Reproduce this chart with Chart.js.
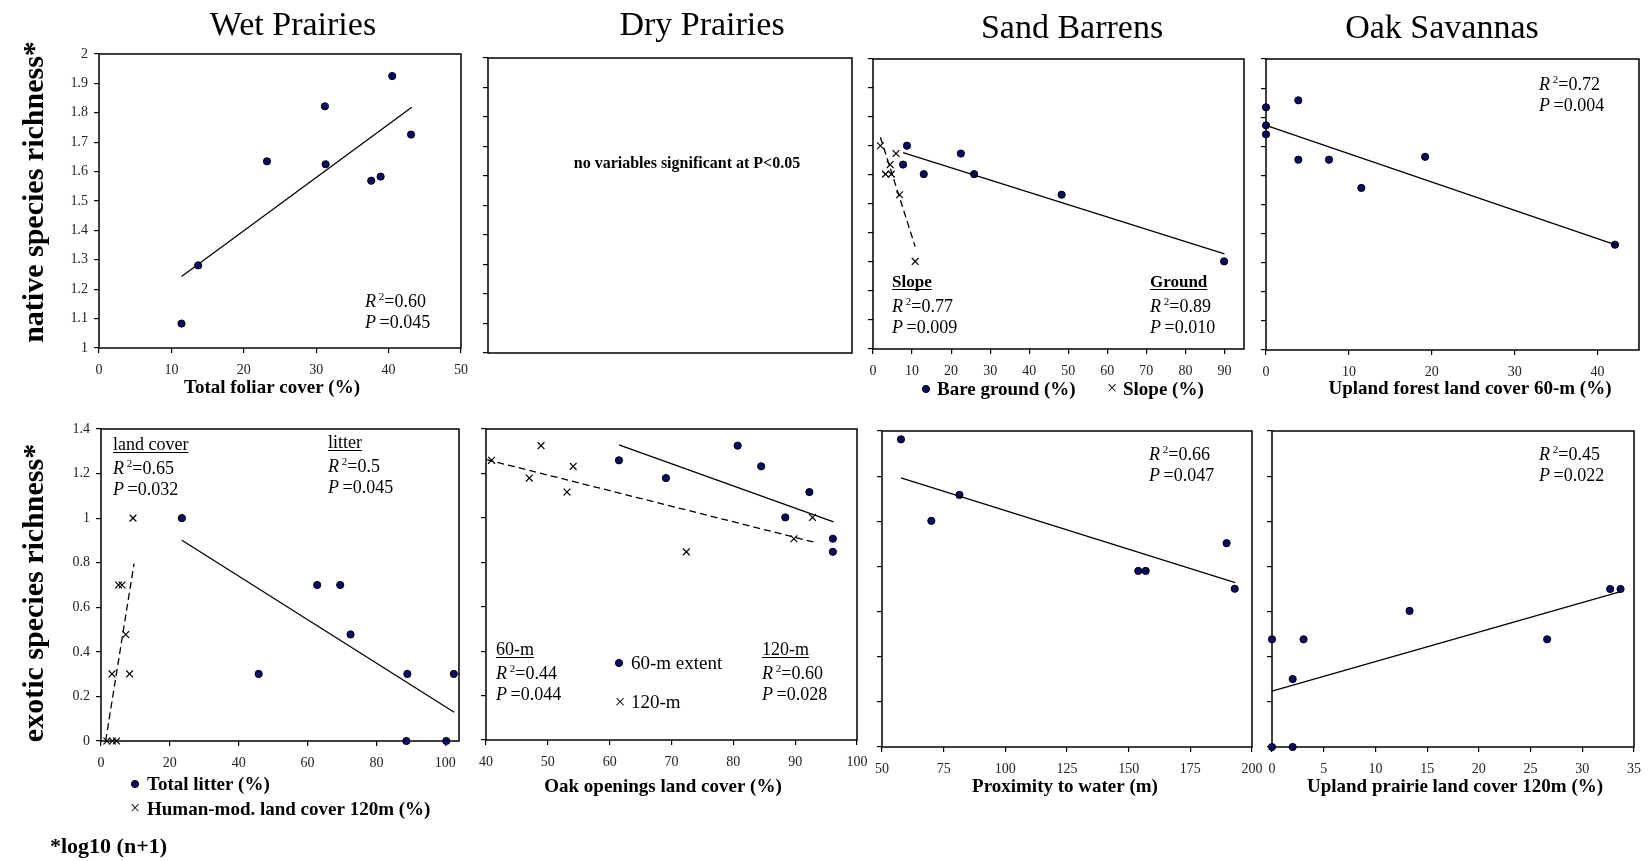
<!DOCTYPE html>
<html>
<head>
<meta charset="utf-8">
<script src="https://cdn.jsdelivr.net/npm/chart.js@4.4.1/dist/chart.umd.min.js"></script>
<style>
  body { margin: 0; background: #fff; width: 1650px; height: 861px; position: relative; overflow: hidden; }
  canvas { position: absolute; }
</style>
</head>
<body>
<canvas id="wetTop"></canvas>
<canvas id="dryTop"></canvas>
<canvas id="sandTop"></canvas>
<canvas id="oakTop"></canvas>
<canvas id="wetBottom"></canvas>
<canvas id="dryBottom"></canvas>
<canvas id="sandBottom"></canvas>
<canvas id="oakBottom"></canvas>
<script>
// ---- data ----
// Wet prairies, native richness vs total foliar cover
const wetFoliar = [11.4, 13.7, 23.2, 31.2, 31.3, 37.6, 38.9, 40.5, 43.1];
const wetNative = [1.083, 1.281, 1.635, 1.822, 1.625, 1.569, 1.583, 1.925, 1.726];
const wetNativeFitX = [11.4, 43.2];
const wetNativeFitY = [1.243, 1.819];

// Sand barrens, native richness vs bare ground / slope
const sandBare = [8.7, 7.7, 13.0, 22.5, 25.9, 48.3, 89.9];
const sandBareNative = [1.701, 1.636, 1.603, 1.674, 1.603, 1.532, 1.302];
const sandSlope = [1.9, 5.9, 4.4, 3.2, 4.7, 6.8, 10.8];
const sandSlopeNative = [1.701, 1.674, 1.636, 1.603, 1.603, 1.532, 1.302];
const sandBareFitX = [7.7, 90];
const sandBareFitY = [1.677, 1.328];
const sandSlopeFitX = [1.9, 10.8];
const sandSlopeFitY = [1.730, 1.353];

// Oak savannas, native richness vs upland forest 60-m
const oakForest = [0, 0, 0, 3.9, 3.9, 7.6, 11.5, 19.2, 42.1];
const oakNative = [1.834, 1.772, 1.741, 1.858, 1.654, 1.654, 1.557, 1.664, 1.362];
const oakNativeFitX = [0, 42.1];
const oakNativeFitY = [1.772, 1.362];

// Wet prairies, exotic richness vs litter / human-modified land cover
const wetLitter = [23.5, 45.8, 62.8, 69.5, 72.5, 89.0, 102.5, 88.7, 100.3];
const wetLitterExotic = [1.0, 0.301, 0.70, 0.70, 0.478, 0.301, 0.301, 0, 0];
const wetHuman = [9.3, 5.1, 6.1, 7.2, 3.2, 8.3, 1.7, 3.3, 4.5];
const wetHumanExotic = [1.0, 0.70, 0.70, 0.478, 0.301, 0.301, 0, 0, 0];
const wetLitterFitX = [23.5, 102.6];
const wetLitterFitY = [0.901, 0.129];
const wetHumanFitX = [1.35, 9.6];
const wetHumanFitY = [0, 0.796];

// Dry prairies, exotic richness vs oak openings (60-m and 120-m)
const dryOak60 = [61.5, 69.1, 80.7, 84.5, 88.4, 92.3, 96.1, 96.1];
const dryOak60Exotic = [1.259, 1.179, 1.325, 1.232, 1.002, 1.116, 0.906, 0.847];
const dryOak120 = [40.9, 47.0, 48.9, 53.1, 54.1, 72.4, 89.8, 92.8];
const dryOak120Exotic = [1.259, 1.179, 1.325, 1.116, 1.232, 0.847, 0.906, 1.002];
const dryOak60FitX = [61.5, 96.2];
const dryOak60FitY = [1.329, 0.982];
const dryOak120FitX = [40.1, 93.0];
const dryOak120FitY = [1.262, 0.891];

// Sand barrens, exotic richness vs proximity to water
const sandWater = [57.7, 70.0, 81.4, 153.9, 156.9, 189.7, 193.0];
const sandExotic = [1.363, 1.002, 1.117, 0.780, 0.780, 0.903, 0.701];
const sandWaterFitX = [57.7, 193.2];
const sandWaterFitY = [1.192, 0.728];

// Oak savannas, exotic richness vs upland prairie 120m
const oakPrairie = [0, 0, 2.0, 2.0, 3.05, 13.3, 26.6, 32.7, 33.7];
const oakExotic = [0.477, 0, 0.301, 0, 0.477, 0.603, 0.477, 0.700, 0.700];
const oakPrairieFitX = [0, 33.7];
const oakPrairieFitY = [0.247, 0.688];

// ---- drawing helpers ----
const FONT = "'Liberation Serif', 'Times New Roman', serif";
const NAVY = '#0a0a66';

function fontOf(size, bold, italic) {
  return (italic ? 'italic ' : '') + (bold ? 'bold ' : '') + size + 'px ' + FONT;
}

function drawRich(ctx, x, y, segs, size, bold, align) {
  let w = 0;
  const parts = segs.map(([s, f]) => {
    f = f || '';
    const sup = f.includes('s');
    const font = fontOf(sup ? Math.round(size * 0.62) : size, bold || f.includes('b'), f.includes('i'));
    ctx.font = font;
    const p = { s, font, dy: sup ? -size * 0.38 : 0, x: w };
    w += ctx.measureText(s).width;
    return p;
  });
  const sx = align === 'center' ? x - w / 2 : x;
  ctx.textAlign = 'left';
  ctx.textBaseline = 'alphabetic';
  parts.forEach(p => { ctx.font = p.font; ctx.fillText(p.s, sx + p.x, y + p.dy); });
  return { x: sx, w };
}

function drawItem(ctx, it) {
  ctx.fillStyle = '#000';
  if (it.dot) {
    ctx.beginPath();
    ctx.arc(it.x, it.y, 3.6, 0, Math.PI * 2);
    ctx.fillStyle = NAVY;
    ctx.fill();
    ctx.lineWidth = 1;
    ctx.strokeStyle = '#000';
    ctx.stroke();
    return;
  }
  if (it.rot) {
    ctx.save();
    ctx.translate(it.x, it.y);
    ctx.rotate(-Math.PI / 2);
    ctx.font = fontOf(it.size, it.bold, false);
    ctx.textAlign = 'center';
    ctx.textBaseline = 'middle';
    ctx.fillText(it.s, 0, 0);
    ctx.restore();
    return;
  }
  const segs = it.segs || [[it.s, '']];
  const r = drawRich(ctx, it.x, it.y, segs, it.size, it.bold, it.align);
  if (it.under) {
    ctx.beginPath();
    ctx.lineWidth = 1;
    ctx.strokeStyle = '#000';
    ctx.moveTo(r.x, it.y + 2.5);
    ctx.lineTo(r.x + r.w, it.y + 2.5);
    ctx.stroke();
  }
}

function stats(x, y, r2, p) {
  return [
    { x, y, size: 18, segs: [['R', 'i'], [' ', 's'], ['2', 's'], ['=' + r2, '']] },
    { x, y: y + 21, size: 18, segs: [['P', 'i'], ['\u2009', ''], ['=' + p, '']] }
  ];
}

const notes = {
  id: 'notes',
  beforeDatasetsDraw(chart, args, opts) {
    const a = chart.chartArea, ctx = chart.ctx;
    ctx.save();
    ctx.strokeStyle = '#000';
    ctx.lineWidth = 1.5;
    ctx.strokeRect(a.left, a.top, a.right - a.left, a.bottom - a.top);
    ctx.restore();
  },
  afterDraw(chart, args, opts) {
    const ctx = chart.ctx;
    ctx.save();
    ctx.translate(-opts.ox, -opts.oy);
    (opts.items || []).forEach(it => drawItem(ctx, it));
    ctx.restore();
  }
};

const pts = (xs, ys) => xs.map((x, i) => ({ x, y: ys[i] }));
const dots = (xs, ys) => ({
  data: pts(xs, ys), pointStyle: 'circle', pointRadius: 3.6,
  backgroundColor: NAVY, borderColor: '#000', borderWidth: 1, clip: false
});
const crosses = (xs, ys) => ({
  data: pts(xs, ys), pointStyle: 'crossRot', pointRadius: 4.8,
  borderColor: '#000', backgroundColor: '#000', borderWidth: 1.2, clip: false
});
const fit = (xs, ys, dashed) => ({
  data: pts(xs, ys), showLine: true, pointRadius: 0, fill: false,
  borderColor: '#000', borderWidth: 1.3, borderDash: dashed ? [7, 4] : [], clip: false
});

function axis(ax, box, cv, isX) {
  return {
    type: 'linear', min: ax.min, max: ax.max,
    ticks: {
      stepSize: ax.step, includeBounds: false, display: !!ax.labels, autoSkip: false,
      maxRotation: 0, padding: isX ? 9 : 6, color: '#222',
      font: { family: FONT, size: 14 },
      callback: v => String(Math.round(v * 10) / 10)
    },
    grid: { display: ax.marks !== false, drawOnChartArea: false, drawTicks: true, tickLength: 5, color: '#000', lineWidth: 1.2 },
    border: { display: false },
    afterFit: s => {
      if (isX) s.height = cv.y + cv.h - box.b;
      else s.width = box.l - cv.x;
    }
  };
}

function panel(id, cv, box, datasets, xAx, yAx, items) {
  const el = document.getElementById(id);
  el.width = cv.w; el.height = cv.h;
  el.style.left = cv.x + 'px'; el.style.top = cv.y + 'px';
  return new Chart(el, {
    type: 'scatter',
    data: { datasets },
    options: {
      responsive: false, animation: false, devicePixelRatio: 1, events: [],
      layout: { padding: { left: 0, top: box.t - cv.y, right: cv.x + cv.w - box.r, bottom: 0 } },
      scales: { x: axis(xAx, box, cv, true), y: axis(yAx, box, cv, false) },
      plugins: {
        legend: { display: false }, tooltip: { enabled: false },
        notes: { ox: cv.x, oy: cv.y, items }
      }
    },
    plugins: [notes]
  });
}

const nativeY = { min: 1, max: 2, step: 0.1 };
const exoticY = { min: 0, max: 1.4, step: 0.2 };
const title = (s, x, y) => ({ s, x, y, size: 34, align: 'center' });
const xTitle = (s, x, y) => ({ s, x, y, size: 19, bold: true, align: 'center' });

// ---- top row: native richness ----
panel('wetTop', { x: 0, y: 0, w: 486, h: 408 }, { l: 99, t: 54, r: 461, b: 348 },
  [dots(wetFoliar, wetNative), fit(wetNativeFitX, wetNativeFitY)],
  { min: 0, max: 50, step: 10, labels: true }, Object.assign({ labels: true }, nativeY),
  [title('Wet Prairies', 293, 35),
   { s: 'native species richness*', x: 35, y: 192, size: 30, bold: true, rot: true },
   xTitle('Total foliar cover (%)', 272, 393),
   ...stats(365, 307, '0.60', '0.045')]);

panel('dryTop', { x: 438, y: 0, w: 439, h: 413 }, { l: 488, t: 58, r: 852, b: 353 },
  [],
  { min: 0, max: 1, step: 1, marks: false }, nativeY,
  [title('Dry Prairies', 702, 35),
   { s: 'no variables significant at P<0.05', x: 687, y: 168, size: 16, bold: true, align: 'center' }]);

panel('sandTop', { x: 823, y: 0, w: 446, h: 409 }, { l: 873, t: 59, r: 1244, b: 349 },
  [fit(sandBareFitX, sandBareFitY), fit(sandSlopeFitX, sandSlopeFitY, true),
   dots(sandBare, sandBareNative), crosses(sandSlope, sandSlopeNative)],
  { min: 0, max: 95, step: 10, labels: true }, nativeY,
  [title('Sand Barrens', 1072, 38),
   { s: 'Slope', x: 892, y: 287, size: 17, bold: true, under: true },
   ...stats(892, 312, '0.77', '0.009'),
   { s: 'Ground', x: 1150, y: 287, size: 17, bold: true, under: true },
   ...stats(1150, 312, '0.89', '0.010'),
   { dot: true, x: 926, y: 389 },
   { s: 'Bare ground (%)', x: 937, y: 395, size: 19, bold: true },
   { s: '\u00d7', x: 1112, y: 394, size: 18, align: 'center' },
   { s: 'Slope (%)', x: 1123, y: 395, size: 19, bold: true }]);

panel('oakTop', { x: 1216, y: 0, w: 434, h: 410 }, { l: 1266, t: 59, r: 1639, b: 350 },
  [fit(oakNativeFitX, oakNativeFitY), dots(oakForest, oakNative)],
  { min: 0, max: 45, step: 10, labels: true }, nativeY,
  [title('Oak Savannas', 1442, 38),
   ...stats(1539, 90, '0.72', '0.004'),
   xTitle('Upland forest land cover 60-m (%)', 1470, 394)]);

// ---- bottom row: exotic richness ----
panel('wetBottom', { x: 0, y: 400, w: 484, h: 461 }, { l: 101, t: 429, r: 459, b: 741 },
  [fit(wetLitterFitX, wetLitterFitY), fit(wetHumanFitX, wetHumanFitY, true),
   dots(wetLitter, wetLitterExotic), crosses(wetHuman, wetHumanExotic)],
  { min: 0, max: 104, step: 20, labels: true }, Object.assign({ labels: true }, exoticY),
  [{ s: 'exotic species richness*', x: 35, y: 593, size: 30, bold: true, rot: true },
   { s: 'land cover', x: 113, y: 450, size: 18, under: true },
   ...stats(113, 474, '0.65', '0.032'),
   { s: 'litter', x: 328, y: 448, size: 18, under: true },
   ...stats(328, 472, '0.5', '0.045'),
   { dot: true, x: 135, y: 784 },
   { s: 'Total litter (%)', x: 147, y: 790, size: 19, bold: true },
   { s: '\u00d7', x: 135, y: 814, size: 18, align: 'center' },
   { s: 'Human-mod. land cover 120m (%)', x: 147, y: 815, size: 19, bold: true },
   { s: '*log10 (n+1)', x: 50, y: 853, size: 22, bold: true }]);

panel('dryBottom', { x: 436, y: 400, w: 446, h: 410 }, { l: 486, t: 429, r: 857, b: 740 },
  [fit(dryOak60FitX, dryOak60FitY), fit(dryOak120FitX, dryOak120FitY, true),
   dots(dryOak60, dryOak60Exotic), crosses(dryOak120, dryOak120Exotic)],
  { min: 40, max: 100, step: 10, labels: true }, exoticY,
  [{ s: '60-m', x: 496, y: 655, size: 18, under: true },
   ...stats(496, 679, '0.44', '0.044'),
   { s: '120-m', x: 762, y: 655, size: 18, under: true },
   ...stats(762, 679, '0.60', '0.028'),
   { dot: true, x: 619, y: 663 },
   { s: '60-m extent', x: 631, y: 669, size: 19 },
   { s: '\u00d7', x: 620, y: 708, size: 19, align: 'center' },
   { s: '120-m', x: 631, y: 708, size: 19 },
   xTitle('Oak openings land cover (%)', 663, 792)]);

panel('sandBottom', { x: 832, y: 400, w: 445, h: 410 }, { l: 882, t: 431, r: 1252, b: 747 },
  [fit(sandWaterFitX, sandWaterFitY), dots(sandWater, sandExotic)],
  { min: 50, max: 200, step: 25, labels: true }, exoticY,
  [...stats(1149, 460, '0.66', '0.047'),
   xTitle('Proximity to water (m)', 1065, 792)]);

panel('oakBottom', { x: 1222, y: 400, w: 428, h: 410 }, { l: 1272, t: 431, r: 1637, b: 747 },
  [fit(oakPrairieFitX, oakPrairieFitY), dots(oakPrairie, oakExotic)],
  { min: 0, max: 35, step: 5, labels: true }, exoticY,
  [...stats(1539, 460, '0.45', '0.022'),
   xTitle('Upland prairie land cover 120m (%)', 1455, 792)]);
</script>
</body>
</html>
